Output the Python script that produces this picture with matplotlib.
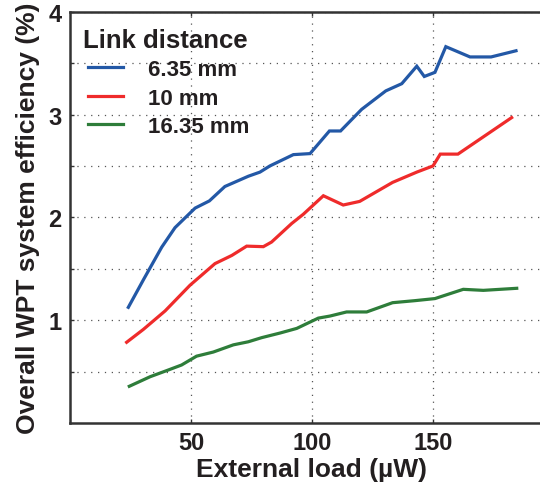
import matplotlib
matplotlib.use("Agg")
import matplotlib.pyplot as plt

plt.rcParams['font.family'] = ['Liberation Sans', 'DejaVu Sans']
plt.rcParams['font.weight'] = 'bold'

# Efficiency vs. external load for three link distances
load_635 = [24.1, 30.5, 37.9, 43.4, 51.7, 57.6, 64.0, 73.7, 78.5, 82.6, 92.3, 99.2,
            107.2, 111.8, 120.5, 130.5, 137.1, 143.3, 146.4, 150.8, 155.3, 165.3, 174.0, 184.3]
eff_635 = [1.125, 1.40, 1.71, 1.90, 2.09, 2.16, 2.30, 2.40, 2.44, 2.50, 2.61, 2.62,
           2.84, 2.84, 3.05, 3.23, 3.30, 3.47, 3.37, 3.41, 3.66, 3.56, 3.56, 3.62]

load_10 = [23.4, 30.3, 39.3, 49.6, 59.9, 66.9, 73.0, 79.9, 83.3, 91.6, 96.4, 104.7,
           112.9, 119.7, 133.3, 143.3, 150.0, 153.0, 160.3, 182.5]
eff_10 = [0.785, 0.91, 1.09, 1.34, 1.55, 1.63, 1.72, 1.715, 1.76, 1.94, 2.03, 2.21,
          2.12, 2.155, 2.34, 2.44, 2.50, 2.615, 2.615, 2.97]

load_1635 = [24.5, 33.1, 40.0, 46.1, 52.3, 59.2, 67.5, 73.7, 79.2, 86.8, 93.7, 102.6,
             107.4, 114.3, 122.6, 133.3, 142.6, 150.8, 162.5, 170.8, 184.6]
eff_1635 = [0.357, 0.45, 0.51, 0.564, 0.65, 0.69, 0.76, 0.79, 0.83, 0.875, 0.92, 1.02,
            1.04, 1.08, 1.08, 1.17, 1.19, 1.21, 1.30, 1.29, 1.31]

labels = ['6.35 mm', '10 mm', '16.35 mm']
colors = ['#2358a6', '#ef2b2b', '#2e7d3a']
legend_title = 'Link distance'

x_ticks = [50, 100, 150]
y_ticks = [0.5, 1, 1.5, 2, 2.5, 3, 3.5, 4]
y_tick_labels = ['' if v % 1 else str(int(v)) for v in y_ticks]

W, H = 540, 485
fig = plt.figure(figsize=(W / 100, H / 100), dpi=100)
ax = fig.add_axes([70 / W, 61 / H, 484 / W, 411.3 / H])

series = [(load_635, eff_635), (load_10, eff_10), (load_1635, eff_1635)]
for (x, y), lab, c in zip(series, labels, colors):
    ax.plot(x, y, color=c, lw=2.3, label=lab, solid_joinstyle='miter')

ax.set_xlim(0, 200)
ax.set_ylim(0, 4)
ax.set_xticks(x_ticks)
ax.set_yticks(y_ticks)
ax.set_yticklabels(y_tick_labels)
ax.tick_params(axis='both', direction='in', length=3, width=1, color='#333333',
               labelsize=17, pad=6, top=True)
for lab in ax.get_xticklabels() + ax.get_yticklabels():
    lab.set_fontweight('bold')
    lab.set_color('#231f20')

ax.grid(True, linestyle=(0, (1, 4.5)), color='#555555', linewidth=0.9)
for s in ['left', 'bottom', 'top']:
    ax.spines[s].set_linewidth(1.8)
    ax.spines[s].set_color('#333333')
ax.spines['right'].set_visible(False)

ax.set_xlabel('External load (µW)', fontsize=19, fontweight='bold', color='#231f20', labelpad=2)
ax.set_ylabel('Overall WPT system efficiency (%)', fontsize=19, fontweight='bold',
              color='#231f20', labelpad=6)

# Legend heading sits slightly left of the indented entries
ax.text(0.0269, 0.931, legend_title, transform=ax.transAxes, ha='left', va='center',
        fontsize=18.5, fontweight='bold', color='#231f20')
leg = ax.legend(loc='upper left', bbox_to_anchor=(0.0372, 0.8850),
                frameon=False, prop={'size': 16, 'weight': 'bold'},
                handlelength=1.58, handletextpad=1.13, labelspacing=0.34,
                borderaxespad=0.0, borderpad=0.0)
for t in leg.get_texts():
    t.set_color('#231f20')

fig.savefig('out.png', dpi=100)
